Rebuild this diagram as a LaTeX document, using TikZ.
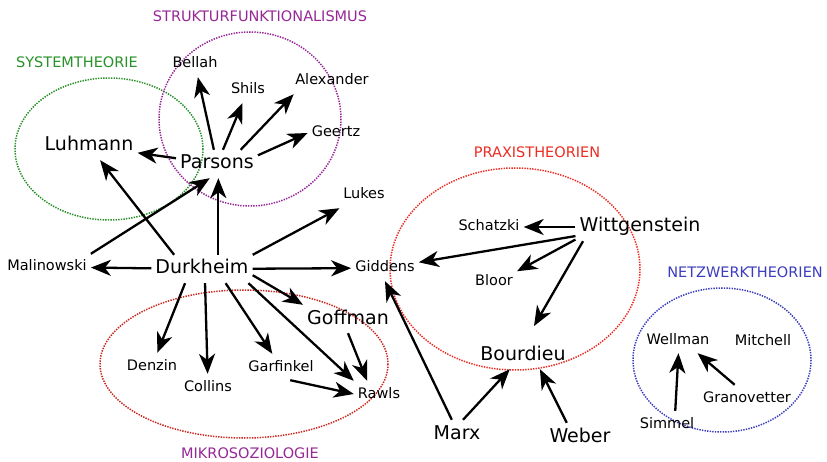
\documentclass[tikz,border=0pt]{standalone}
\usepackage{fontspec}
\setmainfont{DejaVu Sans}
\usetikzlibrary{arrows.meta, positioning, calc}
\definecolor{sysgreen}{RGB}{40,145,40}
\definecolor{strukpurple}{RGB}{150,40,150}
\definecolor{praxred}{RGB}{235,45,35}
\definecolor{netzblue}{RGB}{60,60,190}

\begin{document}
\begin{tikzpicture}[x=1pt, y=-1pt,
		big/.style={inner xsep=4pt, inner ysep=5pt, text height=14pt, text depth=4pt, font=\fontsize{19}{19}\selectfont},
		small/.style={inner xsep=4pt, inner ysep=6pt, text height=11pt, text depth=3pt, font=\fontsize{14.5}{14.5}\selectfont},
		grp/.style={font=\fontsize{14.5}{14.5}\selectfont},
		ring/.style={line width=1.5pt, dash pattern=on 1.4pt off 1.2pt},
		arr/.style={-{Stealth[length=20pt, width=16pt, inset=6pt]}, line width=2.3pt}]
		\useasboundingbox (0,0) rectangle (827,462);
		% schools
		\draw[ring, sysgreen] (109,149) ellipse [x radius=94, y radius=71];
		\draw[ring, strukpurple] (250,119) ellipse [x radius=91, y radius=87];
		\draw[ring, praxred!85!black] (244,364) ellipse [x radius=144, y radius=74];
		\draw[ring, praxred] (515,269) ellipse [x radius=125, y radius=101];
		\draw[ring, netzblue] (722,360) ellipse [x radius=89, y radius=72];
		\node[grp, text=strukpurple] (lstruk) at (260,16) {STRUKTURFUNKTIONALISMUS};
		\node[grp, text=sysgreen] (lsys) at (77,62) {SYSTEMTHEORIE};
		\node[grp, text=praxred] (lprax) at (537,152) {PRAXISTHEORIEN};
		\node[grp, text=netzblue] (lnetz) at (745,272) {NETZWERKTHEORIEN};
		\node[grp, text=strukpurple] (lmikro) at (250,453) {MIKROSOZIOLOGIE};
		% people
		\node[small] (bellah) at (195,64) {Bellah};
		\node[small] (shils) at (248,90) {Shils};
		\node[small] (alexander) at (332,81) {Alexander};
		\node[small] (geertz) at (336,133) {Geertz};
		\node[big] (luhmann) at (89,146) {Luhmann};
		\node[big] (parsons) at (217,164) {Parsons};
		\node[small] (lukes) at (364,195) {Lukes};
		\node[small] (malinowski) at (47,267) {Malinowski};
		\node[big] (durkheim) at (202,269) {Durkheim};
		\node[small] (giddens) at (385,268) {Giddens};
		\node[big] (goffman) at (348,319) {Goffman};
		\node[small] (denzin) at (152,366) {Denzin};
		\node[small] (collins) at (208,387) {Collins};
		\node[small] (garfinkel) at (281,367) {Garfinkel};
		\node[small] (rawls) at (379,394) {Rawls};
		\node[small] (schatzki) at (489,227) {Schatzki};
		\node[big] (wittgenstein) at (640,227) {Wittgenstein};
		\node[small] (bloor) at (494,282) {Bloor};
		\node[big] (bourdieu) at (523,355) {Bourdieu};
		\node[big] (marx) at (457,434) {Marx};
		\node[big] (weber) at (580,437) {Weber};
		\node[small] (wellman) at (678,340) {Wellman};
		\node[small] (mitchell) at (763,341) {Mitchell};
		\node[small] (granovetter) at (747,398) {Granovetter};
		\node[small] (simmel) at (667,424) {Simmel};
		% influences
		\draw[arr] (parsons) -- (luhmann);
		\draw[arr] (parsons) -- (bellah);
		\draw[arr] (parsons) -- (shils);
		\draw[arr] (parsons.31) -- (alexander.199);
		\draw[arr] (parsons.12) -- (geertz.west);
		\draw[arr] (durkheim.153) -- (luhmann);
		\draw[arr] (malinowski.north east) -- (parsons.-117);
		\draw[arr] (durkheim.41) -- (durkheim.41 |- parsons.south);
		\draw[arr] (durkheim.north east) -- (lukes);
		\draw[arr] (durkheim) -- (malinowski);
		\draw[arr] (durkheim) -- (giddens);
		\draw[arr] (durkheim.-7) -- (goffman.north west);
		\draw[arr] (durkheim.-140) -- (denzin);
		\draw[arr] (durkheim.-78) -- (collins);
		\draw[arr] (durkheim.-31) -- (garfinkel);
		\draw[arr] (durkheim.-17) -- (rawls.north west);
		\draw[arr] (goffman.south) -- (rawls.132);
		\draw[arr] (garfinkel.-55) -- (rawls.west);
		\draw[arr] (wittgenstein) -- (schatzki);
		\draw[arr] (wittgenstein.-172) -- (giddens);
		\draw[arr] (wittgenstein.-169) -- (bloor.25);
		\draw[arr, shorten >=17pt] (wittgenstein.-166) -- (bourdieu.80);
		\draw[arr] (marx.110) -- (giddens.south);
		\draw[arr] (marx.67) -- (bourdieu.-133);
		\draw[arr] (weber.133) -- (bourdieu.-40);
		\draw[arr] (simmel.58) -- (wellman.-88);
		\draw[arr] (granovetter.133) -- (wellman.-34);
	\end{tikzpicture}
\end{document}
